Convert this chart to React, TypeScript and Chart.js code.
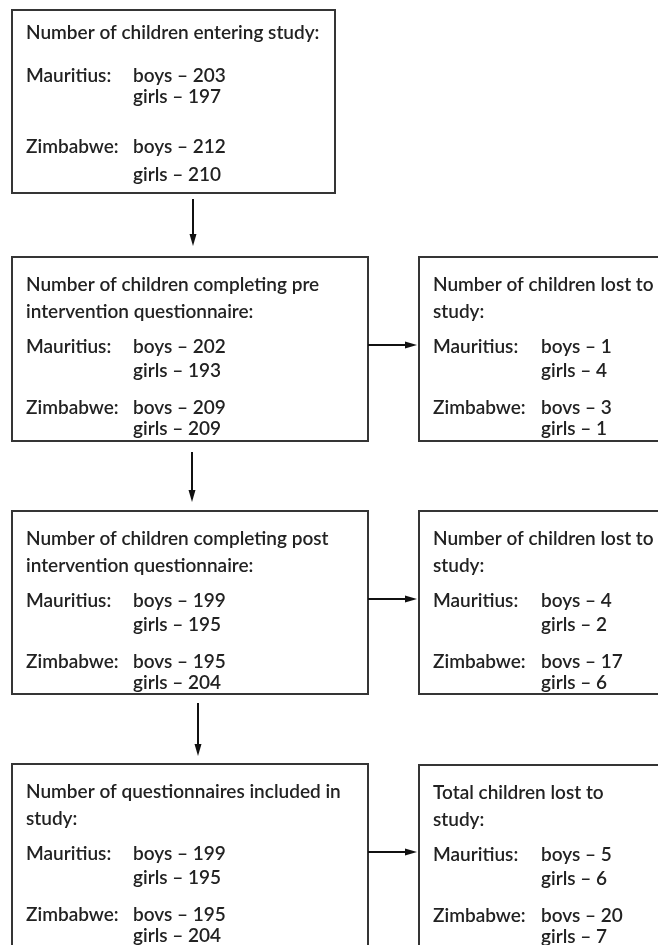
import React, { useEffect, useRef } from "react";
import { Chart, registerables } from "chart.js";
Chart.register(...registerables);

// ---- data ----
const leftTitles: string[][] = [
  ["Number of children entering study:"],
  ["Number of children completing pre", "intervention questionnaire:"],
  ["Number of children completing post", "intervention questionnaire:"],
  ["Number of questionnaires included in", "study:"],
];
const mauritiusBoys = [203, 202, 199, 199];
const mauritiusGirls = [197, 193, 195, 195];
const zimbabweBoys = [212, 209, 195, 195];
const zimbabweGirls = [210, 209, 204, 204];
const zimbabweBoysWord = ["boys", "bovs", "bovs", "bovs"];

const rightTitles: string[][] = [
  ["Number of children lost to", "study:"],
  ["Number of children lost to", "study:"],
  ["Total children lost to", "study:"],
];
const lostMauritiusBoys = [1, 4, 5];
const lostMauritiusGirls = [4, 2, 6];
const lostZimbabweBoys = [3, 17, 20];
const lostZimbabweGirls = [1, 6, 7];
const lostZimbabweBoysWord = ["bovs", "bovs", "bovs"];

const countryLabels = ["Mauritius:", "Zimbabwe:"];

// ---- layout (in scale units) ----
const W = 658;
const H = 945;
const leftBoxes = [
  { x0: 12, y0: 10, x1: 335, y1: 193 },
  { x0: 12, y0: 257, x1: 368, y1: 441 },
  { x0: 12, y0: 511, x1: 368, y1: 694 },
  { x0: 12, y0: 764, x1: 368, y1: 990 },
];
const rightBoxes = [
  { x0: 419, y0: 257, x1: 720, y1: 441 },
  { x0: 419, y0: 511, x1: 720, y1: 694 },
  { x0: 419, y0: 765, x1: 720, y1: 990 },
];
// text row offsets (from box top)
const firstBoxRows = { titles: [23], m1: 66, m2: 87, z1: 137, z2: 165 };
const otherBoxRows = { titles: [28, 55], m1: 90, m2: 114, z1: 151, z2: 172 };
const downArrows = [
  { x: 193, y0: 199, y1: 246 },
  { x: 192, y0: 452, y1: 502 },
  { x: 198, y0: 703, y1: 756 },
];
const FONT = "600 19px Lato";
const TEXT_COLOR = "#222222";
const LINE_COLOR = "#353535";

const flowPlugin = {
  id: "flow",
  afterDraw(chart: any) {
    const ctx: CanvasRenderingContext2D = chart.ctx;
    const xs = chart.scales.x;
    const ys = chart.scales.y;
    const px = (v: number) => xs.getPixelForValue(v);
    const py = (v: number) => ys.getPixelForValue(v);
    ctx.save();
    ctx.fillStyle = "#ffffff";
    ctx.fillRect(0, 0, chart.width, chart.height);

    const box = (b: any) => {
      ctx.strokeStyle = LINE_COLOR;
      ctx.lineWidth = 2;
      ctx.strokeRect(px(b.x0), py(b.y0), px(b.x1) - px(b.x0), py(b.y1) - py(b.y0));
    };
    const text = (s: string, x: number, y: number) => {
      ctx.fillStyle = TEXT_COLOR;
      ctx.font = FONT;
      ctx.textBaseline = "middle";
      ctx.textAlign = "left";
      ctx.fillText(s, px(x), py(y));
    };
    const block = (
      b: any,
      rows: any,
      titles: string[],
      mb: number,
      mg: number,
      zb: number,
      zg: number,
      zword: string,
      labelDx: number,
      valueDx: number
    ) => {
      box(b);
      titles.forEach((t, i) => text(t, b.x0 + labelDx, b.y0 + rows.titles[i]));
      text(countryLabels[0], b.x0 + labelDx, b.y0 + rows.m1);
      text(`boys \u2013 ${mb}`, b.x0 + valueDx, b.y0 + rows.m1);
      text(`girls \u2013 ${mg}`, b.x0 + valueDx, b.y0 + rows.m2);
      text(countryLabels[1], b.x0 + labelDx, b.y0 + rows.z1);
      text(`${zword} \u2013 ${zb}`, b.x0 + valueDx, b.y0 + rows.z1);
      text(`girls \u2013 ${zg}`, b.x0 + valueDx, b.y0 + rows.z2);
    };

    leftBoxes.forEach((b, i) =>
      block(
        b,
        i === 0 ? firstBoxRows : otherBoxRows,
        leftTitles[i],
        mauritiusBoys[i],
        mauritiusGirls[i],
        zimbabweBoys[i],
        zimbabweGirls[i],
        zimbabweBoysWord[i],
        14,
        121
      )
    );
    rightBoxes.forEach((b, i) =>
      block(
        b,
        otherBoxRows,
        rightTitles[i],
        lostMauritiusBoys[i],
        lostMauritiusGirls[i],
        lostZimbabweBoys[i],
        lostZimbabweGirls[i],
        lostZimbabweBoysWord[i],
        14,
        122
      )
    );

    // arrows
    ctx.strokeStyle = "#111111";
    ctx.fillStyle = "#111111";
    ctx.lineWidth = 2;
    const arrowDown = (x: number, y0: number, y1: number) => {
      ctx.beginPath();
      ctx.moveTo(px(x), py(y0));
      ctx.lineTo(px(x), py(y1) - 8);
      ctx.stroke();
      ctx.beginPath();
      ctx.moveTo(px(x) - 3.5, py(y1) - 12);
      ctx.lineTo(px(x) + 3.5, py(y1) - 12);
      ctx.lineTo(px(x), py(y1));
      ctx.closePath();
      ctx.fill();
    };
    const arrowRight = (x0: number, x1: number, y: number) => {
      ctx.beginPath();
      ctx.moveTo(px(x0), py(y));
      ctx.lineTo(px(x1) - 8, py(y));
      ctx.stroke();
      ctx.beginPath();
      ctx.moveTo(px(x1) - 14, py(y) - 3.5);
      ctx.lineTo(px(x1) - 14, py(y) + 3.5);
      ctx.lineTo(px(x1) - 2, py(y));
      ctx.closePath();
      ctx.fill();
    };
    downArrows.forEach((a) => arrowDown(a.x, a.y0, a.y1));
    rightBoxes.forEach((rb, i) => {
      const lb = leftBoxes[i + 1];
      arrowRight(lb.x1, rb.x0, lb.y0 + otherBoxRows.m1 - 2);
    });
    ctx.restore();
  },
};

export default function App() {
  const ref = useRef<HTMLCanvasElement | null>(null);
  useEffect(() => {
    if (!ref.current) return;
    const chart = new Chart(ref.current, {
      type: "scatter",
      data: { datasets: [{ data: [] }] },
      options: {
        animation: false,
        responsive: false,
        devicePixelRatio: 1,
        layout: { padding: 0 },
        plugins: { legend: { display: false }, tooltip: { enabled: false } },
        scales: {
          x: { type: "linear", min: 0, max: W, display: false },
          y: { type: "linear", min: 0, max: H, reverse: true, display: false },
        },
      },
      plugins: [flowPlugin],
    });
    return () => chart.destroy();
  }, []);
  return (
    <div style={{ position: "fixed", left: 0, top: 0, width: W, height: H, background: "#fff" }}>
      <canvas ref={ref} width={W} height={H} style={{ display: "block" }} />
    </div>
  );
}
